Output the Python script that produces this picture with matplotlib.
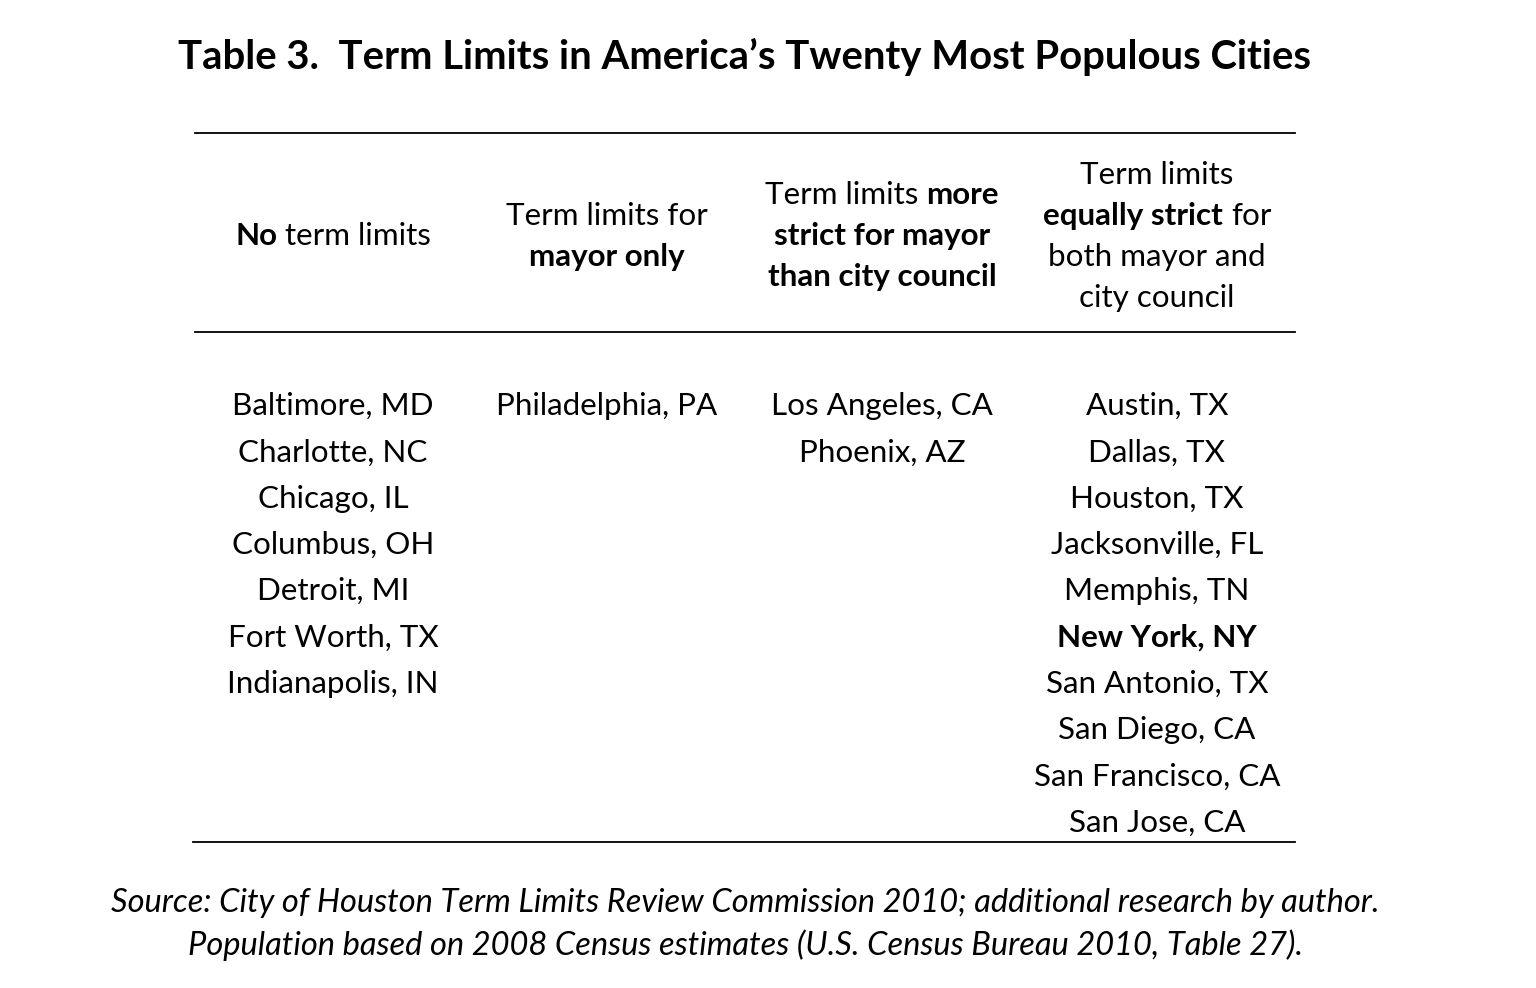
import matplotlib
matplotlib.use("Agg")
import matplotlib.pyplot as plt

plt.rcParams['font.family'] = ['Lato', 'DejaVu Sans']

# Table content
title = "Table 3.  Term Limits in America\u2019s Twenty Most Populous Cities"

# header lines per column: each line is a list of (text, bold) pieces
headers = [
    [[("No", True), ("term limits", False)]],
    [[("Term limits for", False)], [("mayor only", True)]],
    [[("Term limits", False), ("more", True)],
     [("strict for mayor", True)],
     [("than city council", True)]],
    [[("Term limits", False)],
     [("equally strict", True), ("for", False)],
     [("both mayor and", False)],
     [("city council", False)]],
]

no_limits = ["Baltimore, MD", "Charlotte, NC", "Chicago, IL", "Columbus, OH",
             "Detroit, MI", "Fort Worth, TX", "Indianapolis, IN"]
mayor_only = ["Philadelphia, PA"]
more_strict = ["Los Angeles, CA", "Phoenix, AZ"]
equally_strict = ["Austin, TX", "Dallas, TX", "Houston, TX", "Jacksonville, FL",
                  "Memphis, TN", "New York, NY", "San Antonio, TX", "San Diego, CA",
                  "San Francisco, CA", "San Jose, CA"]
bold_cities = ["New York, NY"]

source_lines = [
    "Source: City of Houston Term Limits Review Commission 2010; additional research by author.",
    "Population based on 2008 Census estimates (U.S. Census Bureau 2010, Table 27).",
]

W, H = 1536, 988
fig = plt.figure(figsize=(W / 100, H / 100), dpi=100)
fig.patch.set_facecolor('white')
ax = fig.add_axes([0, 0, 1, 1])
ax.set_xlim(0, W)
ax.set_ylim(H, 0)
ax.axis('off')

fs = 22.6
col_x = [333, 607, 882, 1157]

fig.canvas.draw()
renderer = fig.canvas.get_renderer()


def text_width(s, bold):
    t = ax.text(0, 0, s, fontsize=fs, fontweight='bold' if bold else 'normal')
    bb = t.get_window_extent(renderer)
    t.remove()
    return bb.width


space_w = text_width("x x", False) - text_width("xx", False)


def mixed_line(xc, y, pieces):
    widths = [text_width(s, b) for s, b in pieces]
    total = sum(widths) + space_w * (len(pieces) - 1)
    x = xc - total / 2
    for (s, b), w in zip(pieces, widths):
        ax.text(x, y, s, fontsize=fs, fontweight='bold' if b else 'normal',
                ha='left', va='center', color='black')
        x += w + space_w


# title
ax.text(745, 57, title, fontsize=28.8, fontweight='bold', ha='center', va='center')

# rules
ax.plot([195, 1295], [133, 133], color='black', lw=1.3)
ax.plot([195, 1295], [332, 332], color='black', lw=1.3)
ax.plot([193, 1295], [842, 842], color='black', lw=1.3)

# headers, vertically centred around y=236
line_h = 41
for xc, lines in zip(col_x, headers):
    n = len(lines)
    y0 = 236 - (n - 1) * line_h / 2
    for i, pieces in enumerate(lines):
        mixed_line(xc, y0 + i * line_h, pieces)

# body
row_h = 46.3
for xc, cities in zip(col_x, [no_limits, mayor_only, more_strict, equally_strict]):
    for i, c in enumerate(cities):
        ax.text(xc, 406 + i * row_h, c, fontsize=fs,
                fontweight='bold' if c in bold_cities else 'normal',
                ha='center', va='center')

# source note
for i, s in enumerate(source_lines):
    ax.text(745, 903 + i * 42, s, fontsize=23.5, fontstyle='italic',
            ha='center', va='center')

fig.savefig('out.png', dpi=100, facecolor='white')
